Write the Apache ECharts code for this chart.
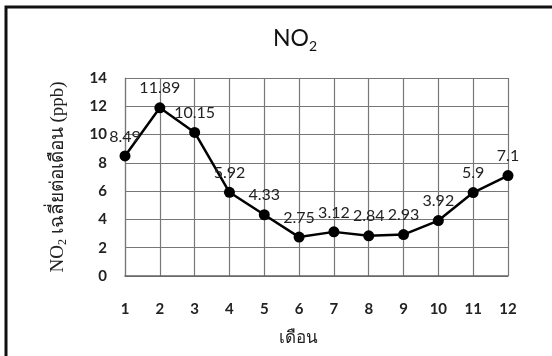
<!DOCTYPE html>
<html>
<head>
<meta charset="utf-8">
<script src="https://cdn.jsdelivr.net/npm/echarts@6/dist/echarts.min.js"></script>
<style>
  html, body { margin: 0; padding: 0; background: #fff; }
  #main { width: 552px; height: 356px; }
</style>
</head>
<body>
<div id="main"></div>
<script>
    // ข้อมูล NO2 รายเดือน
    var months = ['1', '2', '3', '4', '5', '6', '7', '8', '9', '10', '11', '12'];
    var no2Values = [8.49, 11.89, 10.15, 5.92, 4.33, 2.75, 3.12, 2.84, 2.93, 3.92, 5.9, 7.1];
    var yTicks = [0, 2, 4, 6, 8, 10, 12, 14];

    var myChart = echarts.init(document.getElementById('main'));
    myChart.setOption({
        animation: false,
        backgroundColor: '#fff',
        // กรอบด้านนอก
        graphic: [{
            type: 'polyline',
            shape: { points: [[6, 360], [6, 7], [560, 7]] },
            style: { stroke: '#111', lineWidth: 3, fill: null }
        }],
        title: {
            text: 'NO{sub|2}',
            left: 290,
            top: 20,
            textAlign: 'center',
            textStyle: {
                fontFamily: 'Lato',
                fontSize: 23,
                fontWeight: 'normal',
                color: '#111',
                rich: {
                    sub: { fontFamily: 'Lato', fontSize: 14, color: '#111', verticalAlign: 'bottom', padding: [14, 0, 0, 0] }
                }
            }
        },
        grid: {
            left: 125,
            right: 44,
            top: 78,
            bottom: 80
        },
        xAxis: {
            type: 'category',
            data: months,
            boundaryGap: false,
            name: 'เดือน',
            nameLocation: 'middle',
            nameGap: 54,
            nameTextStyle: { fontFamily: 'Noto Sans', fontSize: 17, color: '#222', padding: [0, 36, 0, 0] },
            axisLine: { lineStyle: { color: '#666', width: 1.5 } },
            axisTick: { show: false },
            axisLabel: { margin: 26, fontFamily: 'Lato', fontWeight: 'bold', fontSize: 15, color: '#222' },
            splitLine: { show: true, lineStyle: { color: '#777', width: 1.2 } }
        },
        yAxis: {
            type: 'value',
            min: yTicks[0],
            max: yTicks[yTicks.length - 1],
            interval: 2,
            name: 'NO{sub|2} เฉลี่ยต่อเดือน (ppb)',
            nameLocation: 'middle',
            nameGap: 56,
            nameTextStyle: {
                fontFamily: 'Liberation Serif',
                fontSize: 19,
                color: '#222',
                rich: { sub: { fontFamily: 'Liberation Serif', fontSize: 12, color: '#222', padding: [9, 0, 0, 0] } }
            },
            axisLine: { show: true, lineStyle: { color: '#777', width: 1.2 } },
            axisTick: { show: false },
            axisLabel: { margin: 18, fontFamily: 'Lato', fontWeight: 'bold', fontSize: 15, color: '#222' },
            splitLine: { show: true, lineStyle: { color: '#777', width: 1.2 } }
        },
        series: [{
            name: 'NO2',
            type: 'line',
            data: no2Values,
            symbol: 'circle',
            symbolSize: 11,
            itemStyle: { color: '#000' },
            lineStyle: { color: '#000', width: 2.5 },
            label: {
                show: true,
                position: 'top',
                distance: 6,
                fontFamily: 'Lato',
                fontSize: 16,
                color: '#222'
            }
        }]
    });
</script>
</body>
</html>
